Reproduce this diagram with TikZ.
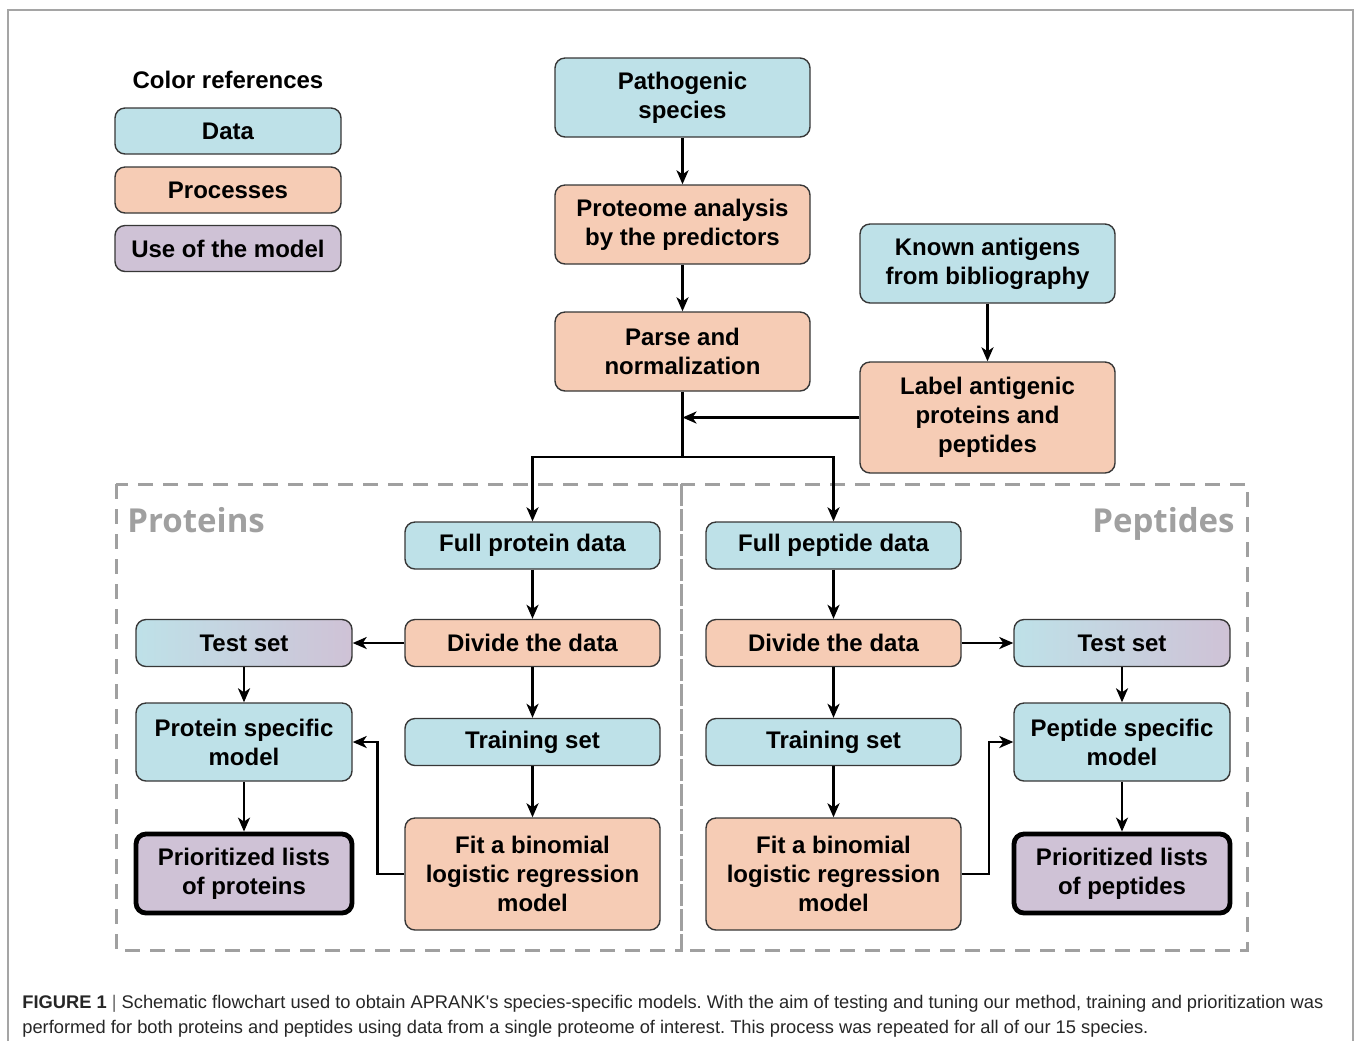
\documentclass[tikz,border=0pt]{standalone}
\usepackage{fontspec}
\setmainfont{Liberation Sans}
\newfontfamily\regionfont{Open Sans}
\newfontfamily\capfont{Liberation Sans}
\usetikzlibrary{positioning,arrows.meta,calc}
\definecolor{fcData}{RGB}{190,225,232}
\definecolor{fcProc}{RGB}{246,204,181}
\definecolor{fcUse}{RGB}{207,194,214}
\definecolor{fcEdge}{RGB}{55,55,55}
\definecolor{fcDash}{RGB}{160,160,160}
\definecolor{fcFrame}{RGB}{165,165,165}
\frenchspacing

\begin{document}
\begin{tikzpicture}[
  x=0.5pt, y=-0.5pt,
  font=\fontsize{12}{14.5}\selectfont\bfseries,
  box/.style={draw=fcEdge, line width=0.7pt, rounded corners=5pt, align=center,
    inner sep=2pt, minimum width=127.5pt, minimum height=23.5pt},
  data/.style={box, fill=fcData},
  proc/.style={box, fill=fcProc},
  usem/.style={box, fill=fcUse},
  legb/.style={box, minimum width=113pt, minimum height=23pt},
  side/.style={box, minimum width=108pt},
  testb/.style={side, left color=fcData, right color=fcUse},
  listb/.style={side, fill=fcUse, draw=black, line width=2.4pt, minimum height=39.5pt},
  region/.style={draw=fcDash, line width=1.5pt, dash pattern=on 7.5pt off 5pt},
  regtxt/.style={font=\regionfont\fontsize{16.5}{19}\selectfont\bfseries, text=fcDash, inner sep=0pt},
  ar/.style={-{Stealth[length=7pt, width=6pt, inset=2pt]}, line width=1.2pt},
  ln/.style={line width=1.2pt}
]
  \useasboundingbox (0,0) rectangle (1354,1041);
  \draw[fcFrame, line width=0.6pt] (8,1041) -- (8,10) -- (1353,10) -- (1353,1041);

  % legend
  \node (legt) at (228, 80) {Color references};
  \node[legb, fill=fcData] (legd) at (228, 131) {Data};
  \node[legb, fill=fcProc] (legp) at (228, 190) {Processes};
  \node[legb, fill=fcUse] (legu) at (228, 248.5) {Use of the model};

  % top chain
  \node[data, minimum height=39.5pt] (spec) at (682.5, 97.5) {Pathogenic\\species};
  \node[proc, minimum height=39.5pt] (prot) at (682.5, 224.5) {Proteome analysis\\by the predictors};
  \node[proc, minimum height=39.5pt] (parse) at (682.5, 351.5) {Parse and\\normalization};
  \node[data, minimum height=39.5pt] (known) at (987.5, 263.5) {Known antigens\\from bibliography};
  \node[proc, minimum height=55.5pt] (label) at (987.5, 417.5) {Label antigenic\\proteins and\\peptides};

  % regions
  \draw[region] (116,484) rectangle (681,950);
  \draw[region] (681,484) rectangle (1247,950);
  \node[regtxt, anchor=base west] (rprot) at (127, 532) {Proteins};
  \node[regtxt, anchor=base east] (rpept) at (1235, 532) {Peptides};

  % proteins
  \node[data] (fullp) at (532.5, 545.5) {Full protein data};
  \node[proc] (divp) at (532.5, 643) {Divide the data};
  \node[data] (trainp) at (532.5, 742) {Training set};
  \node[proc, minimum height=56pt] (fitp) at (532.5, 874) {Fit a binomial\\logistic regression\\model};
  \node[testb] (testp) at (244, 643) {Test set};
  \node[side, fill=fcData, minimum height=39pt] (modp) at (244, 742) {Protein specific\\model};
  \node[listb] (listp) at (244, 873.5) {Prioritized lists\\of proteins};

  % peptides
  \node[data] (fullq) at (833.5, 545.5) {Full peptide data};
  \node[proc] (divq) at (833.5, 643) {Divide the data};
  \node[data] (trainq) at (833.5, 742) {Training set};
  \node[proc, minimum height=56pt] (fitq) at (833.5, 874) {Fit a binomial\\logistic regression\\model};
  \node[testb] (testq) at (1122, 643) {Test set};
  \node[side, fill=fcData, minimum height=39pt] (modq) at (1122, 742) {Peptide specific\\model};
  \node[listb] (listq) at (1122, 873.5) {Prioritized lists\\of peptides};

  % connectors
  \draw[ar] (spec) -- (prot);
  \draw[ar] (prot) -- (parse);
  \draw[ar] (known) -- (label);
  \coordinate (split) at (682.5, 457);
  \draw[ln] (parse.south) -- (split);
  \draw[ar] (label.west) -- (label.west -| split);
  \draw[ar] (split) -| (fullp.north);
  \draw[ar] (split) -| (fullq.north);

  \draw[ar] (fullp) -- (divp);
  \draw[ar] (divp) -- (trainp);
  \draw[ar] (trainp) -- (fitp);
  \draw[ar] (divp) -- (testp);
  \draw[ar] (testp) -- (modp);
  \draw[ar] (modp) -- (listp);
  \draw[ar] (fitp.west) -- ++(-27,0) |- (modp.east);

  \draw[ar] (fullq) -- (divq);
  \draw[ar] (divq) -- (trainq);
  \draw[ar] (trainq) -- (fitq);
  \draw[ar] (divq) -- (testq);
  \draw[ar] (testq) -- (modq);
  \draw[ar] (modq) -- (listq);
  \draw[ar] (fitq.east) -- ++(27,0) |- (modq.west);

  % caption
  \node[anchor=north west, align=left, inner sep=0pt,
    font=\capfont\fontsize{9.15}{12.5}\selectfont\mdseries, text=black!85] (cap) at (22, 995)
    {{\bfseries FIGURE 1} {\color{black!60}|} Schematic flowchart used to obtain APRANK's species-specific models. With the aim of testing and tuning our method, training and prioritization was\\
     performed for both proteins and peptides using data from a single proteome of interest. This process was repeated for all of our 15 species.};
\end{tikzpicture}
\end{document}
